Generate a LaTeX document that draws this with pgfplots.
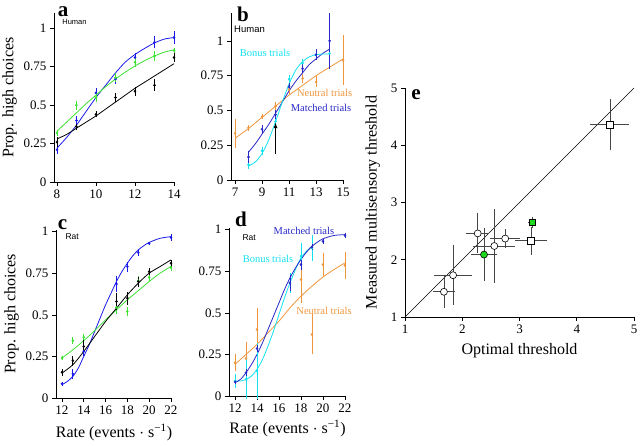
\documentclass[border=0pt]{standalone}
\usepackage{pgfplots}
\pgfplotsset{compat=1.18}
\usepackage{fontspec}
\setmainfont{Liberation Serif}
\newfontfamily\sansf{Liberation Sans}
\definecolor{cblue}{RGB}{25,25,235}
\definecolor{cgreen}{RGB}{60,225,50}
\definecolor{mblue}{RGB}{40,40,200}
\definecolor{ccyan}{RGB}{20,225,240}
\definecolor{corange}{RGB}{238,150,60}
\definecolor{egreen}{RGB}{30,215,30}
\definecolor{ebar}{RGB}{70,70,70}
\pgfplotsset{
 base/.style={scale only axis, anchor=south west, axis lines=left, axis line style={-, line width=0.6pt},
   tick align=outside, major tick length=4pt, tick style={line width=0.6pt, black}, clip=false,
   ticklabel style={font=\fontsize{13}{13}\selectfont},
   label style={font=\fontsize{16}{16}\selectfont},
   /pgf/number format/assume math mode=true},
 panel/.style={base, ytick={0,0.25,0.5,0.75,1}, yticklabels={0,0.25,0.5,0.75,1}, ymin=0},
 dat/.style={only marks, mark=*, mark size=1.1pt, error bars/y dir=both, error bars/y explicit,
   error bars/error bar style={line width=0.8pt}, error bars/error mark=none},
 fitc/.style={no marks, line width=0.8pt, smooth},
}
\tikzset{
 lab/.style={font=\sansf\fontsize{8.5}{8.5}\selectfont, anchor=west},
 tri/.style={font=\fontsize{10.5}{10.5}\selectfont},
}
\begin{document}
\begin{tikzpicture}[x=1pt,y=1pt]
\useasboundingbox (0,0) rectangle (640,446);
% ---------------- panel a
\begin{axis}[panel, at={(54pt,264pt)}, width=121pt, height=169pt, xmin=7.85, xmax=14.05, ymax=1.1,
  xtick={8,10,12,14}, ylabel={Prop. high choices}]
\addplot[fitc, cblue] coordinates {(8,0.22)(8.5,0.29)(9,0.37)(9.5,0.46)(10,0.55)(10.5,0.63)(11,0.71)(11.5,0.78)(12,0.83)(12.5,0.87)(13,0.905)(13.5,0.93)(14,0.94)};
\addplot[fitc, cgreen] coordinates {(8,0.33)(8.5,0.39)(9,0.45)(9.5,0.51)(10,0.565)(10.5,0.62)(11,0.67)(11.5,0.715)(12,0.755)(12.5,0.79)(13,0.82)(13.5,0.845)(14,0.86)};
\addplot[fitc, black] coordinates {(8,0.28)(8.5,0.31)(9,0.35)(9.5,0.39)(10,0.43)(10.5,0.475)(11,0.52)(11.5,0.565)(12,0.61)(12.5,0.65)(13,0.69)(13.5,0.73)(14,0.77)};
\addplot[dat, cblue] coordinates {(8,0.21)+-(0,0.03) (9,0.40)+-(0,0.03) (10,0.58)+-(0,0.03) (11,0.67)+-(0,0.03) (12,0.81)+-(0,0.03) (13,0.91)+-(0,0.04) (14,0.94)+-(0,0.04)};
\addplot[dat, cgreen] coordinates {(8,0.32)+-(0,0.02) (9,0.50)+-(0,0.03) (10,0.55)+-(0,0.03) (11,0.68)+-(0,0.03) (12,0.78)+-(0,0.03) (13,0.82)+-(0,0.03) (14,0.855)+-(0,0.02)};
\addplot[dat, black] coordinates {(8,0.26)+-(0,0.03) (9,0.36)+-(0,0.02) (10,0.44)+-(0,0.02) (11,0.55)+-(0,0.03) (12,0.59)+-(0,0.03) (13,0.63)+-(0,0.04) (14,0.81)+-(0,0.03)};
\node[lab, font=\sansf\fontsize{7.5}{7.5}\selectfont] at (axis cs:8.1,1.04) {Human};
\end{axis}
% ---------------- panel b
\begin{axis}[panel, at={(231pt,266pt)}, width=113pt, height=167pt, xmin=6.7, xmax=15.07, ymax=1.2,
  xtick={7,9,11,13,15}]
\addplot[fitc, corange] coordinates {(7,0.30)(7.5,0.335)(8,0.37)(8.5,0.41)(9,0.45)(9.5,0.49)(10,0.53)(10.5,0.57)(11,0.61)(11.5,0.645)(12,0.68)(12.5,0.715)(13,0.75)(13.5,0.78)(14,0.81)(14.5,0.84)(15,0.87)};
\addplot[fitc, mblue] coordinates {(8,0.20)(8.5,0.26)(9,0.33)(9.5,0.40)(10,0.48)(10.5,0.56)(11,0.64)(11.5,0.71)(12,0.77)(12.5,0.83)(13,0.87)(13.5,0.91)(14,0.94)};
\addplot[fitc, ccyan] coordinates {(8,0.10)(8.5,0.13)(9,0.19)(9.5,0.29)(10,0.42)(10.5,0.56)(11,0.69)(11.5,0.79)(12,0.85)(12.5,0.885)(13,0.90)(13.5,0.905)(14,0.905)};
\addplot[dat, corange] coordinates {(7,0.335)+-(0,0.105) (8,0.375)+-(0,0.02) (9,0.455)+-(0,0.02) (10,0.53)+-(0,0.03) (11,0.65)+-(0,0.03) (12,0.73)+-(0,0.03) (13,0.705)+-(0,0.04) (15,0.86)+-(0,0.18)};
\addplot[dat, ccyan] coordinates {(8,0.11)+-(0,0.03) (9,0.21)+-(0,0.03) (10,0.42)+-(0,0.03) (11,0.725)+-(0,0.03) (12,0.84)+-(0,0.03) (13,0.90)+-(0,0.03) (14,0.91)+-(0,0.02)};
\addplot[dat, mblue] coordinates {(8,0.165)+-(0,0.04) (9,0.365)+-(0,0.03) (10,0.47)+-(0,0.03) (11,0.67)+-(0,0.03) (12,0.80)+-(0,0.03) (13,0.90)+-(0,0.04) (14,1.00)+-(0,0.20)};
\draw[-latex, line width=0.8pt] (axis cs:10,0.19) -- (axis cs:10,0.41);
\node[lab, font=\sansf\fontsize{9.5}{9.5}\selectfont, inner sep=1pt] at (axis cs:6.85,1.085) {Human};
\node[tri, text=ccyan] at (axis cs:9.22,0.91) {Bonus trials};
\node[tri, text=corange] at (axis cs:13.63,0.626) {Neutral trials};
\node[tri, text=mblue] at (axis cs:13.37,0.52) {Matched trials};
\end{axis}
% ---------------- panel c
\begin{axis}[panel, at={(56pt,48pt)}, width=116pt, height=168pt, xmin=11.45, xmax=22.1, ymax=1.01,
  xtick={12,14,...,22}, ylabel={Prop. high choices}, xlabel={Rate (events $\cdot$ s\textsuperscript{−1})},
  xlabel style={yshift=-3pt}]
\addplot[fitc, cblue] coordinates {(12,0.08)(12.5,0.10)(13,0.13)(13.5,0.18)(14,0.25)(14.5,0.32)(15,0.40)(15.5,0.48)(16,0.56)(16.5,0.63)(17,0.70)(17.5,0.76)(18,0.81)(18.5,0.855)(19,0.89)(19.5,0.915)(20,0.935)(21,0.96)(22,0.97)};
\addplot[fitc, cgreen] coordinates {(12,0.24)(13,0.29)(14,0.345)(15,0.405)(16,0.47)(17,0.53)(18,0.59)(19,0.645)(20,0.70)(21,0.75)(22,0.79)};
\addplot[fitc, black] coordinates {(12,0.15)(13,0.20)(14,0.28)(15,0.37)(16,0.46)(17,0.54)(18,0.62)(19,0.69)(20,0.75)(21,0.79)(22,0.83)};
\addplot[dat, cblue] coordinates {(12,0.085)+-(0,0.01) (13,0.145)+-(0,0.03) (14,0.28)+-(0,0.03) (17,0.685)+-(0,0.05) (18,0.79)+-(0,0.03) (19,0.875)+-(0,0.02) (20,0.93)+-(0,0.01) (22,0.965)+-(0,0.02)};
\addplot[dat, cgreen] coordinates {(12,0.24)+-(0,0.01) (13,0.345)+-(0,0.02) (14,0.365)+-(0,0.02) (17,0.545)+-(0,0.04) (18,0.52)+-(0,0.03) (19,0.705)+-(0,0.03) (20,0.725)+-(0,0.02) (22,0.785)+-(0,0.02)};
\addplot[dat, black] coordinates {(12,0.155)+-(0,0.02) (13,0.225)+-(0,0.03) (14,0.31)+-(0,0.04) (17,0.58)+-(0,0.05) (18,0.60)+-(0,0.04) (19,0.70)+-(0,0.03) (20,0.76)+-(0,0.02) (22,0.81)+-(0,0.02)};
\node[lab] at (axis cs:12.0,0.97) {Rat};
\end{axis}
% ---------------- panel d
\begin{axis}[panel, at={(229pt,50pt)}, width=117pt, height=168pt, xmin=11.45, xmax=22.1, ymax=1.01,
  xtick={12,14,...,22}, xlabel={Rate (events $\cdot$ s\textsuperscript{−1})}, xlabel style={yshift=-1pt}]
\addplot[fitc, corange] coordinates {(12,0.19)(13,0.25)(14,0.31)(15,0.38)(16,0.45)(17,0.53)(18,0.60)(19,0.66)(20,0.715)(21,0.76)(22,0.80)};
\addplot[fitc, ccyan] coordinates {(12,0.09)(12.5,0.09)(13,0.10)(13.5,0.12)(14,0.16)(14.5,0.22)(15,0.30)(15.5,0.39)(16,0.49)(16.5,0.59)(17,0.68)(17.5,0.76)(18,0.83)(18.5,0.87)(19,0.90)};
\addplot[fitc, mblue] coordinates {(12,0.08)(12.5,0.10)(13,0.14)(13.5,0.19)(14,0.25)(14.5,0.32)(15,0.40)(15.5,0.48)(16,0.56)(16.5,0.64)(17,0.71)(17.5,0.77)(18,0.82)(18.5,0.865)(19,0.90)(19.5,0.925)(20,0.945)(21,0.965)(22,0.97)};
\addplot[dat, corange] coordinates {(12,0.20)+-(0,0.05) (13,0.225)+-(0,0.10) (14,0.40)+-(0,0.13) (18,0.70)+-(0,0.14) (19,0.37)+-(0,0.12) (20,0.79)+-(0,0.07) (22,0.785)+-(0,0.08)};
\addplot[dat, ccyan] coordinates {(12,0.09)+-(0,0.04) (13,0.10)+-(0,0.12) (14,0.15)+-(0,0.17) (17,0.68)+-(0,0.06) (18,0.84)+-(0,0.08) (19,0.89)+-(0,0.08)};
\addplot[dat, mblue] coordinates {(12,0.085)+-(0,0.01) (13,0.14)+-(0,0.02) (14,0.285)+-(0,0.02) (17,0.68)+-(0,0.05) (18,0.79)+-(0,0.03) (19,0.895)+-(0,0.02) (20,0.93)+-(0,0.015) (22,0.965)+-(0,0.015)};
\node[lab] at (axis cs:12.36,0.95) {Rat};
\node[tri, text=mblue] at (axis cs:18.27,0.99) {Matched trials};
\node[tri, text=ccyan] at (axis cs:15.0,0.825) {Bonus trials};
\node[tri, text=corange] at (axis cs:20.1,0.51) {Neutral trials};
\end{axis}
% ---------------- panel e
\begin{axis}[base, at={(405pt,129pt)}, width=229pt, height=229pt, xmin=1, xmax=5, ymin=1, ymax=5,
  xtick={1,2,3,4,5}, ytick={1,2,3,4,5}, xlabel={Optimal threshold}, ylabel={Measured multisensory threshold},
  xlabel style={yshift=-3pt}, ylabel style={yshift=4pt}]
\addplot[black, line width=0.6pt] coordinates {(1,1)(5,5)};
\addplot[only marks, mark=none, error bars/x dir=both, error bars/x explicit, error bars/y dir=both, error bars/y explicit,
  error bars/error mark=none, error bars/error bar style={ebar, line width=0.8pt}] coordinates {
 (1.68,1.44)+-(0.19,0.29) (1.84,1.73)+-(0.33,0.52) (2.27,2.46)+-(0.2,0.35) (2.56,2.24)+-(0.37,0.65) (2.75,2.37)+-(0.26,0.17)
 (2.38,2.09)+-(0.22,0.46) (3.20,2.33)+-(0.28,0.25) (4.58,4.36)+-(0.34,0.44) (3.22,2.65)+-(0.07,0.1)};
\addplot[only marks, mark=*, mark size=3.5pt, mark options={fill=white, draw=black, line width=0.6pt}] coordinates {(1.68,1.44)(1.84,1.73)(2.27,2.46)(2.56,2.24)(2.75,2.37)};
\addplot[only marks, mark=*, mark size=3.5pt, mark options={fill=egreen, draw=black, line width=0.6pt}] coordinates {(2.38,2.09)};
\addplot[only marks, mark=square*, mark size=3.2pt, mark options={fill=white, draw=black, line width=0.6pt}] coordinates {(3.20,2.33)(4.58,4.36)};
\addplot[only marks, mark=square*, mark size=3.2pt, mark options={fill=egreen, draw=black, line width=0.6pt}] coordinates {(3.22,2.65)};
\end{axis}
% panel letters
\tikzset{plet/.style={anchor=base, inner sep=0pt, font=\fontsize{21}{21}\selectfont\bfseries}}
\node[plet] at (63,429) {a};
\node[plet] at (243,424) {b};
\node[plet] at (62.5,216) {c};
\node[plet] at (241,219) {d};
\node[plet] at (416,346) {e};
\end{tikzpicture}
\end{document}
